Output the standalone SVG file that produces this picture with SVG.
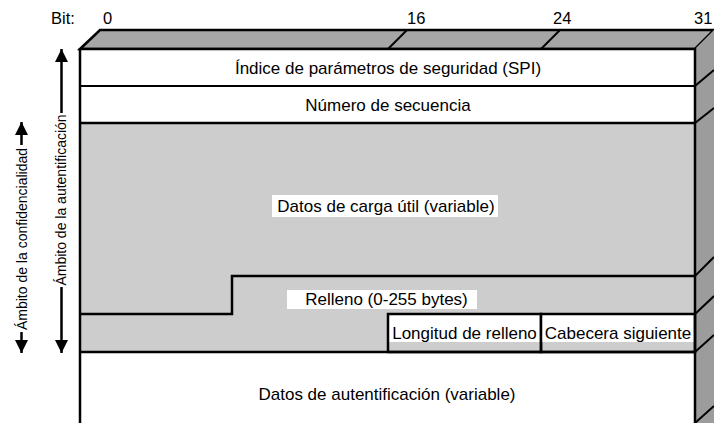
<svg xmlns="http://www.w3.org/2000/svg" width="714" height="423" viewBox="0 0 714 423">
<style>
text{font-family:"Liberation Sans",Arial,sans-serif;fill:#000}
.lbl{font-size:17px;text-anchor:middle}
.bit{font-size:16.5px}
.side{font-size:14px;text-anchor:middle}
.ln{stroke:#000;stroke-width:2.5;fill:none}
.thin{stroke:#000;stroke-width:2;fill:none}
</style>
<defs>
<marker id="ah" viewBox="0 0 14 13" refX="13" refY="6.5" markerWidth="14" markerHeight="13" markerUnits="userSpaceOnUse" orient="auto">
<path d="M0,0 L13,6.5 L0,13 Z" fill="#000"/>
</marker>
</defs>
<rect width="714" height="423" fill="#fff"/>
<!-- bit scale -->
<g id="bits">
<text class="bit" x="51" y="24">Bit:</text>
<text class="bit" x="103" y="24">0</text>
<text class="bit" x="407" y="24">16</text>
<text class="bit" x="553" y="24">24</text>
<text class="bit" x="694" y="24">31</text>
</g>
<!-- 3D top and right faces -->
<g id="top-face">
<polygon points="80,49 100,30 714,30 695,49" fill="#a6a6a6" stroke="#000" stroke-width="2.5" stroke-linejoin="miter"/>
<line class="thin" x1="388" y1="49" x2="407" y2="30"/>
<line class="thin" x1="541" y1="49" x2="560" y2="30"/>
</g>
<g id="right-face">
<polygon points="695,49 714,30 714,423 695,423" fill="#9c9c9c"/>
<g class="thin">
<line x1="695" y1="86" x2="714" y2="70"/>
<line x1="695" y1="123" x2="714" y2="108"/>
<line x1="695" y1="276" x2="714" y2="257"/>
<line x1="695" y1="314" x2="714" y2="296"/>
<line x1="695" y1="352" x2="714" y2="335"/>
<line x1="695" y1="423" x2="714" y2="406"/>
</g>
</g>
<!-- front rows -->
<g id="spi">
<rect x="80" y="49" width="615" height="37" fill="#fff"/>
<text class="lbl" x="388" y="74">Índice de parámetros de seguridad (SPI)</text>
</g>
<g id="seq">
<rect x="80" y="86" width="615" height="37" fill="#fff"/>
<text class="lbl" x="388" y="110.5">Número de secuencia</text>
</g>
<g id="payload">
<rect x="80" y="123" width="615" height="229" fill="#cdcdcd"/>
<rect x="272" y="195" width="226" height="22" fill="#fff"/>
<text class="lbl" x="386" y="212">Datos de carga útil (variable)</text>
</g>
<g id="padding">
<polyline class="ln" points="80,314 232,314 232,276 695,276"/>
<rect x="287" y="290" width="190" height="19" fill="#fff"/>
<text class="lbl" x="386.5" y="305">Relleno (0-255 bytes)</text>
</g>
<g id="padlen">
<rect x="388" y="314" width="153" height="28" fill="#fff"/>
<rect x="388" y="314" width="153" height="38" class="ln"/>
<text class="lbl" x="464.5" y="339">Longitud de relleno</text>
</g>
<g id="nexthdr">
<rect x="541" y="314" width="154" height="28" fill="#fff"/>
<rect x="541" y="314" width="154" height="38" class="ln"/>
<text class="lbl" x="618" y="339">Cabecera siguiente</text>
</g>
<g id="auth">
<text class="lbl" x="387" y="400">Datos de autentificación (variable)</text>
</g>
<!-- frame lines -->
<g id="frame">
<line class="ln" x1="80" y1="49" x2="695" y2="49"/>
<line class="thin" x1="80" y1="86" x2="695" y2="86"/>
<line class="ln" x1="80" y1="123" x2="695" y2="123"/>
<line class="ln" x1="80" y1="352" x2="695" y2="352"/>
<line class="ln" x1="80" y1="48" x2="80" y2="423"/>
<line class="ln" x1="695" y1="48" x2="695" y2="423"/>
</g>
<!-- scope arrows -->
<g id="connectors">
<line x1="61.5" y1="113" x2="61.5" y2="49" stroke="#000" stroke-width="2.5" marker-end="url(#ah)"/>
<line x1="61.5" y1="287" x2="61.5" y2="353" stroke="#000" stroke-width="2.5" marker-end="url(#ah)"/>
<line x1="21.5" y1="145" x2="21.5" y2="122" stroke="#000" stroke-width="2.5" marker-end="url(#ah)"/>
<line x1="21.5" y1="332" x2="21.5" y2="353" stroke="#000" stroke-width="2.5" marker-end="url(#ah)"/>
</g>
<g id="scope-labels">
<text class="side" transform="translate(66,200) rotate(-90)">Ámbito de la autentificación</text>
<text class="side" transform="translate(26.5,239) rotate(-90)">Ámbito de la confidencialidad</text>
</g>
</svg>
